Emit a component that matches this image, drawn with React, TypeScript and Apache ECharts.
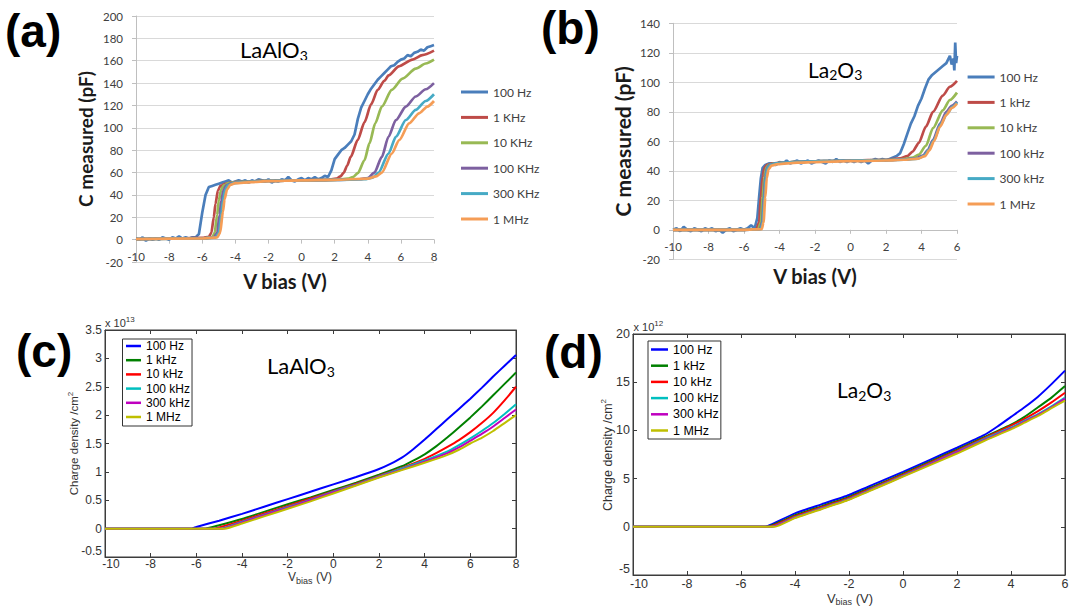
import { useEffect, useRef } from "react";
import * as echarts from "echarts";

type Pt = [number, number];

const EXCEL_FONT = "Lato, 'Liberation Sans', sans-serif";
const MATLAB_FONT = "'Liberation Sans', Arial, sans-serif";

const EXCEL_COLORS = ["#4A7EBB", "#BE4B48", "#98B954", "#7D60A0", "#46AAC5", "#F59D56"];
const MATLAB_COLORS = ["#0000FF", "#008000", "#FF0000", "#00BFBF", "#BF00BF", "#BFBF00"];

// ---------- (a) LaAlO3, C measured (pF) ----------
const A_NAMES = ["100 Hz", "1 KHz", "10 KHz", "100 KHz", "300 KHz", "1 MHz"];
const A_100HZ: Pt[] = [
  [-10, 1], [-9.8, 0], [-9.6, 2], [-9.4, -1], [-9.2, 1], [-9, 0], [-8.8, 1], [-8.6, 0], [-8.4, 2], [-8.2, 1],
  [-8, 0], [-7.8, 2], [-7.6, 1], [-7.4, 3], [-7.2, 1], [-7, 2], [-6.8, 1], [-6.6, 2], [-6.4, 2], [-6.2, 5],
  [-6, 24], [-5.8, 40], [-5.6, 47], [-5.4, 48], [-5.2, 49], [-5, 50], [-4.8, 51], [-4.6, 52], [-4.4, 53], [-4.2, 51],
  [-4, 52], [-3.8, 53], [-3.6, 52], [-3.4, 53], [-3.2, 51], [-3, 53], [-2.8, 52], [-2.6, 54], [-2.4, 53], [-2.2, 52],
  [-2, 54], [-1.8, 51], [-1.6, 53], [-1.4, 52], [-1.2, 54], [-1, 53], [-0.8, 56], [-0.6, 53], [-0.4, 52], [-0.2, 54],
  [0, 55], [0.2, 53], [0.4, 55], [0.6, 54], [0.8, 56], [1, 54], [1.2, 55], [1.4, 57], [1.6, 56], [1.8, 62],
  [2, 72], [2.2, 76], [2.4, 80], [2.6, 82], [2.8, 85], [3, 88], [3.2, 94], [3.4, 108], [3.6, 118], [3.8, 124],
  [4, 130], [4.2, 135], [4.4, 139], [4.6, 143], [4.8, 146], [5, 149], [5.2, 152], [5.4, 155], [5.6, 156], [5.8, 159],
  [6, 161], [6.2, 162], [6.4, 165], [6.6, 164], [6.8, 167], [7, 168], [7.2, 170], [7.4, 169], [7.6, 172], [7.8, 173],
  [8, 174],
];
const A_1KHZ: Pt[] = [
  [-10, 0.5], [-8, 1], [-6, 1.5], [-5.6, 2.5], [-5.45, 6], [-5.3, 20], [-5.2, 32], [-5.05, 44], [-4.9, 48], [-4.6, 50],
  [-4, 51.5], [-2, 52.5], [0, 53], [1.5, 53.5], [2.1, 54.5], [2.35, 56.5], [2.55, 60], [2.75, 66], [2.97, 74], [3.39, 89],
  [3.8, 105], [4.2, 121], [4.6, 134], [5, 142], [5.26, 147], [5.88, 155], [6.7, 161], [7.3, 165], [8, 169],
];
const A_10KHZ: Pt[] = [
  [-10, 0.5], [-6, 1], [-5.4, 2], [-5.25, 6], [-5.1, 22], [-5, 35], [-4.85, 45], [-4.7, 48.5], [-4.4, 50.5], [-4, 51.5],
  [-2, 52.5], [0, 53], [2, 53.5], [2.8, 54.5], [3.1, 56], [3.4, 59.5], [3.8, 71], [4.1, 86], [4.45, 104], [4.85, 119],
  [5.45, 134], [6.1, 144], [6.9, 153], [7.5, 157.5], [8, 161],
];
const A_100KHZ: Pt[] = [
  [-10, 0.5], [-6, 1], [-5.3, 2], [-5.1, 6], [-4.95, 22], [-4.85, 35], [-4.7, 45], [-4.55, 48.5], [-4.2, 50.5], [-4, 51],
  [-2, 52.5], [0, 53], [2, 53.5], [3.5, 54], [4, 55], [4.4, 60], [4.85, 74], [5.25, 92], [5.7, 107], [6.3, 119],
  [6.9, 128], [7.5, 134.5], [8, 140],
];
const A_300KHZ: Pt[] = [
  [-10, 0.5], [-6, 1], [-5.2, 2], [-5, 6], [-4.85, 22], [-4.75, 35], [-4.6, 45], [-4.45, 48.5], [-4.1, 50.5], [-3.5, 51.5],
  [-2, 52.5], [0, 53], [2, 53.5], [3.8, 54], [4.3, 55.5], [4.65, 60], [5.25, 77], [5.7, 92], [6.3, 107], [6.9, 116],
  [7.5, 124], [8, 130],
];
const A_1MHZ: Pt[] = [
  [-10, 0.5], [-6, 1], [-5.1, 2], [-4.92, 6], [-4.75, 25], [-4.65, 36], [-4.5, 45], [-4.3, 49], [-4, 50.5], [-3, 51.5],
  [-2, 52.3], [0, 53], [2, 53.5], [4, 54.5], [4.5, 56.5], [4.85, 60], [5.45, 77], [5.9, 89], [6.5, 104], [7.1, 113],
  [7.6, 119], [8, 124],
];

// ---------- (b) La2O3, C measured (pF) ----------
const B_NAMES = ["100 Hz", "1 kHz", "10 kHz", "100 kHz", "300 kHz", "1 MHz"];
const B_100HZ: Pt[] = [
  [-10, 0], [-9.8, 1], [-9.6, -1], [-9.4, 2], [-9.2, 0], [-9, -1], [-8.8, 1], [-8.6, 0], [-8.4, -1], [-8.2, 1],
  [-8, 0], [-7.8, 1], [-7.6, -1], [-7.4, 0], [-7.2, -2], [-7, 0], [-6.8, 1], [-6.6, -1], [-6.4, 0], [-6.2, 1],
  [-6, 0], [-5.8, 1], [-5.6, 3], [-5.4, 1], [-5.25, 8], [-5.15, 22], [-5.05, 35], [-4.95, 42], [-4.8, 44], [-4.6, 45],
  [-4.4, 45], [-4.2, 44], [-4, 46], [-3.8, 45], [-3.6, 47], [-3.4, 45], [-3.2, 46], [-3, 47], [-2.8, 45], [-2.6, 46],
  [-2.4, 47], [-2.2, 45], [-2, 46], [-1.8, 47], [-1.6, 46], [-1.4, 45], [-1.2, 47], [-1, 46], [-0.8, 48], [-0.6, 46],
  [-0.4, 47], [-0.2, 46], [0, 47], [0.2, 46], [0.4, 47], [0.6, 46], [0.8, 47], [1, 45], [1.2, 47], [1.4, 48],
  [1.6, 47], [1.8, 48], [2, 47], [2.2, 48], [2.4, 49], [2.6, 50], [2.8, 52], [3, 58], [3.2, 65], [3.4, 72],
  [3.6, 77], [3.8, 84], [4, 89], [4.2, 96], [4.4, 102], [4.6, 105], [4.8, 107], [5, 109], [5.2, 111], [5.4, 113],
  [5.6, 118], [5.7, 112], [5.8, 116], [5.85, 108], [5.9, 127], [5.95, 113], [6, 118],
];
const B_1KHZ: Pt[] = [
  [-10, 0], [-6, 0], [-5.3, 0.5], [-5.15, 5], [-5.05, 22], [-4.95, 36], [-4.85, 42], [-4.7, 44], [-4.4, 45], [-3, 46],
  [0, 47], [2, 47.5], [2.8, 48.5], [3.2, 50], [3.5, 53], [3.85, 59], [4.25, 70], [4.65, 80], [5.2, 91], [5.6, 97], [6, 101],
];
const B_10KHZ: Pt[] = [
  [-10, 0], [-6, 0], [-5.2, 0.5], [-5.05, 5], [-4.95, 22], [-4.85, 36], [-4.75, 42], [-4.6, 44], [-4.3, 45], [-3, 46],
  [0, 47], [2, 47.3], [3, 48], [3.5, 49], [3.85, 51], [4.25, 57], [4.65, 69], [5.2, 81], [5.6, 88], [6, 93],
];
const B_100KHZ: Pt[] = [
  [-10, 0], [-6, 0], [-5.1, 0.5], [-4.98, 5], [-4.88, 22], [-4.8, 36], [-4.7, 42], [-4.55, 44], [-4.25, 45], [-3, 46],
  [0, 47], [2, 47.2], [3, 47.7], [3.7, 48.5], [4.1, 50.5], [4.35, 54], [4.65, 61], [5.05, 72], [5.4, 80], [5.7, 84], [6, 87],
];
const B_300KHZ: Pt[] = [
  [-10, 0], [-6, 0], [-5.05, 0.5], [-4.95, 5], [-4.85, 22], [-4.77, 36], [-4.67, 42], [-4.5, 44], [-4.2, 45], [-3, 46],
  [0, 47], [2, 47.2], [3, 47.6], [3.8, 48.3], [4.15, 50.3], [4.4, 54], [4.7, 61], [5.1, 72], [5.45, 79], [5.75, 83.5], [6, 86.5],
];
const B_1MHZ: Pt[] = [
  [-10, 0], [-6, 0], [-5, 0.5], [-4.9, 5], [-4.8, 22], [-4.72, 35], [-4.62, 41], [-4.45, 43.5], [-4.1, 44.5], [-3, 45.5],
  [0, 46.5], [2, 47], [3, 47.5], [3.8, 48.2], [4.2, 50], [4.45, 54], [4.7, 60], [5.05, 70], [5.4, 78], [5.7, 82.5], [6, 85.5],
];

// ---------- (c) LaAlO3, charge density (x 10^13 /cm^2) ----------
const CD_NAMES = ["100 Hz", "1 kHz", "10 kHz", "100 kHz", "300 kHz", "1 MHz"];
const C_100HZ: Pt[] = [
  [-10, 0], [-6.2, 0], [-6, 0.03], [-5, 0.14], [-4, 0.26], [-3, 0.39], [-2, 0.52], [-1, 0.65], [0, 0.78], [1, 0.91],
  [2, 1.05], [2.5, 1.14], [3, 1.25], [3.5, 1.4], [4, 1.57], [4.5, 1.75], [5, 1.93], [5.5, 2.11], [6, 2.29], [6.5, 2.48],
  [7, 2.68], [7.5, 2.87], [8, 3.06],
];
const C_1KHZ: Pt[] = [
  [-10, 0], [-5.6, 0], [-5, 0.06], [-4, 0.17], [-3, 0.3], [-2, 0.43], [-1, 0.55], [0, 0.68], [1, 0.81], [2, 0.95],
  [3, 1.1], [3.5, 1.2], [4, 1.31], [4.5, 1.45], [5, 1.61], [5.5, 1.78], [6, 1.96], [6.5, 2.15], [7, 2.35], [7.5, 2.55], [8, 2.75],
];
const C_10KHZ: Pt[] = [
  [-10, 0], [-5.2, 0], [-5, 0.02], [-4, 0.14], [-3, 0.27], [-2, 0.4], [-1, 0.53], [0, 0.66], [1, 0.79], [2, 0.93],
  [3, 1.07], [4, 1.23], [4.5, 1.33], [5, 1.44], [5.5, 1.56], [6, 1.7], [6.5, 1.86], [7, 2.04], [7.5, 2.26], [8, 2.5],
];
const C_100KHZ: Pt[] = [
  [-10, 0], [-4.95, 0], [-4, 0.12], [-3, 0.25], [-2, 0.38], [-1, 0.51], [0, 0.65], [1, 0.78], [2, 0.92], [3, 1.06],
  [4, 1.2], [5, 1.36], [5.5, 1.47], [6, 1.59], [6.5, 1.72], [7, 1.86], [7.5, 2.02], [8, 2.19],
];
const C_300KHZ: Pt[] = [
  [-10, 0], [-4.85, 0], [-4, 0.11], [-3, 0.24], [-2, 0.37], [-1, 0.5], [0, 0.64], [1, 0.77], [2, 0.91], [3, 1.04],
  [4, 1.18], [5, 1.33], [5.5, 1.43], [6, 1.55], [6.5, 1.67], [7, 1.8], [7.5, 1.95], [8, 2.1],
];
const C_1MHZ: Pt[] = [
  [-10, 0], [-4.75, 0], [-4, 0.09], [-3, 0.22], [-2, 0.35], [-1, 0.48], [0, 0.62], [1, 0.76], [2, 0.9], [3, 1.03],
  [4, 1.16], [5, 1.3], [5.5, 1.39], [6, 1.5], [6.5, 1.6], [7, 1.72], [7.5, 1.86], [8, 2.0],
];

// ---------- (d) La2O3, charge density (x 10^12 /cm^2) ----------
const D_100HZ: Pt[] = [
  [-10, 0], [-5.2, 0], [-5, 0.1], [-4, 1.4], [-3, 2.35], [-2, 3.3], [-1, 4.5], [0, 5.7], [1, 6.95], [2, 8.2],
  [3, 9.5], [3.5, 10.4], [4, 11.4], [4.5, 12.4], [5, 13.5], [5.5, 14.8], [6, 16.2],
];
const D_1KHZ: Pt[] = [
  [-10, 0], [-5.05, 0], [-4, 1.2], [-3, 2.15], [-2, 3.1], [-1, 4.3], [0, 5.5], [1, 6.75], [2, 8.0], [3, 9.3],
  [4, 10.6], [4.5, 11.4], [5, 12.4], [5.5, 13.4], [6, 14.6],
];
const D_10KHZ: Pt[] = [
  [-10, 0], [-5, 0], [-4, 1.1], [-3, 2.05], [-2, 3.0], [-1, 4.2], [0, 5.4], [1, 6.65], [2, 7.9], [3, 9.2],
  [4, 10.5], [4.5, 11.2], [5, 12.0], [5.5, 12.9], [6, 13.9],
];
const D_100KHZ: Pt[] = [
  [-10, 0], [-4.9, 0], [-4, 1.0], [-3, 1.95], [-2, 2.9], [-1, 4.1], [0, 5.3], [1, 6.55], [2, 7.8], [3, 9.1],
  [4, 10.3], [4.5, 11.0], [5, 11.7], [5.5, 12.5], [6, 13.4],
];
const D_300KHZ: Pt[] = [
  [-10, 0], [-4.85, 0], [-4, 0.95], [-3, 1.9], [-2, 2.85], [-1, 4.05], [0, 5.25], [1, 6.5], [2, 7.75], [3, 9.0],
  [4, 10.2], [4.5, 10.9], [5, 11.6], [5.5, 12.4], [6, 13.3],
];
const D_1MHZ: Pt[] = [
  [-10, 0], [-4.75, 0], [-4, 0.9], [-3, 1.85], [-2, 2.8], [-1, 4.0], [0, 5.2], [1, 6.4], [2, 7.6], [3, 8.9],
  [4, 10.1], [4.5, 10.8], [5, 11.5], [5.5, 12.3], [6, 13.1],
];

// ---------- helpers ----------
const W = 1074;
const H = 611;

function panelLabel(text: string, x: number, y: number) {
  return {
    type: "text",
    x,
    y,
    style: {
      text,
      fontFamily: "'Liberation Sans', Arial, sans-serif",
      fontSize: 46,
      fontWeight: "bold",
      fill: "#000",
      align: "left",
      verticalAlign: "middle",
    },
  };
}

function formula(parts: string, x: number, y: number, size: number, subSize: number) {
  return {
    type: "text",
    x,
    y,
    style: {
      text: parts,
      align: "left",
      verticalAlign: "middle",
      fill: "#000",
      rich: {
        m: { fontSize: size, fontFamily: EXCEL_FONT, lineHeight: size + 4, fill: "#000" },
        s: { fontSize: subSize, fontFamily: EXCEL_FONT, lineHeight: 11, verticalAlign: "bottom", fill: "#000" },
      },
    },
  };
}

function excelOption(o: {
  left: number; top: number; rightX: number; bottomY: number;
  xMax: number; yMax: number; names: string[]; data: Pt[][];
  legLeft: number; legTop: number; yNameSize: number; yNameGap: number; xNameSize: number; xNameGap: number;
  graphic: any[];
}) {
  const grey = "#BFBFBF";
  const yMin = -20;
  // horizontal axis crosses the vertical one at C = 0, as in the spreadsheet chart
  const zeroLift = ((o.bottomY - o.top) * (0 - yMin)) / (o.yMax - yMin);
  return {
    animation: false,
    grid: { left: o.left, top: o.top, right: W - o.rightX, bottom: H - o.bottomY },
    legend: {
      orient: "vertical",
      left: o.legLeft,
      top: o.legTop,
      icon: "rect",
      itemWidth: 27,
      itemHeight: 3,
      itemGap: 11.4,
      itemTextGap: 2,
      padding: 0,
      selectedMode: false,
      textStyle: { fontFamily: EXCEL_FONT, fontSize: 12, lineHeight: 14, color: "#404040" },
      data: o.names,
    },
    xAxis: {
      type: "value",
      min: -10,
      max: o.xMax,
      interval: 2,
      offset: -zeroLift,
      axisLine: { show: true, onZero: false, lineStyle: { color: grey, width: 1 } },
      axisTick: { show: true, length: 4, lineStyle: { color: grey } },
      axisLabel: { margin: 11, fontSize: 11.5, color: "#404040", fontFamily: EXCEL_FONT },
      splitLine: { show: false },
      name: "V bias (V)",
      nameLocation: "middle",
      nameGap: o.xNameGap,
      nameTextStyle: { fontFamily: EXCEL_FONT, fontSize: o.xNameSize, fontWeight: "bold", color: "#1a1a1a" },
    },
    yAxis: {
      type: "value",
      min: yMin,
      max: o.yMax,
      interval: 20,
      axisLine: { show: true, onZero: false, lineStyle: { color: grey, width: 1 } },
      axisTick: { show: true, length: 4, lineStyle: { color: grey } },
      axisLabel: { margin: 13, fontSize: 11.5, color: "#404040", fontFamily: EXCEL_FONT },
      splitLine: { show: true, lineStyle: { color: "#D9D9D9", width: 1 } },
      name: "C measured (pF)",
      nameLocation: "middle",
      nameGap: o.yNameGap,
      nameTextStyle: { fontFamily: EXCEL_FONT, fontSize: o.yNameSize, fontWeight: "bold", color: "#1a1a1a" },
    },
    series: o.data.map((d, i) => ({
      type: "line",
      name: o.names[i],
      data: d,
      symbol: "none",
      smooth: i === 0 ? false : 0.25,
      smoothMonotone: "x",
      lineStyle: { width: 2.7, color: EXCEL_COLORS[i] },
      itemStyle: { color: EXCEL_COLORS[i] },
    })),
    graphic: o.graphic,
  };
}

function matlabOption(o: {
  left: number; top: number; rightX: number; bottomY: number;
  xMax: number; yMin: number; yMax: number; yInterval: number; data: Pt[][];
  legLeft: number; legTop: number; legGap: number; legPad: number[]; legItemW: number; legFont: number;
  tickFont: number; xLabelMargin: number;
  graphic: any[];
}) {
  const axisColor = "#3c3c3c";
  const line = { show: true, onZero: false, lineStyle: { color: axisColor, width: 1 } };
  const tick = { show: true, inside: true, length: 4, lineStyle: { color: axisColor } };
  const lab = { fontSize: o.tickFont, color: "#333", fontFamily: MATLAB_FONT };
  return {
    animation: false,
    grid: {
      left: o.left, top: o.top, right: W - o.rightX, bottom: H - o.bottomY,
      show: true, borderColor: axisColor, borderWidth: 1, backgroundColor: "transparent",
    },
    legend: {
      orient: "vertical",
      left: o.legLeft,
      top: o.legTop,
      icon: "rect",
      itemWidth: o.legItemW,
      itemHeight: 2.5,
      itemGap: o.legGap,
      itemTextGap: 1,
      padding: o.legPad,
      backgroundColor: "#fff",
      borderColor: "#333",
      borderWidth: 1,
      selectedMode: false,
      textStyle: { fontFamily: MATLAB_FONT, fontSize: o.legFont, lineHeight: 12, color: "#000" },
      data: CD_NAMES,
    },
    xAxis: [
      {
        type: "value", min: -10, max: o.xMax, interval: 2, position: "bottom",
        axisLine: line, axisTick: tick, splitLine: { show: false },
        axisLabel: {
          ...lab,
          margin: o.xLabelMargin,
          formatter: (v: number) => (v === -10 ? "{f|-10}" : String(v)),
          rich: { f: { ...lab, padding: [0, 0, 0, 12] } },
        },
      },
      {
        type: "value", min: -10, max: o.xMax, interval: 2, position: "top",
        axisLine: line, axisTick: tick, splitLine: { show: false }, axisLabel: { show: false },
      },
    ],
    yAxis: [
      {
        type: "value", min: o.yMin, max: o.yMax, interval: o.yInterval, position: "left",
        axisLine: line, axisTick: tick, splitLine: { show: false },
        axisLabel: {
          ...lab,
          margin: 3,
          formatter: (v: number) => (v === o.yMin ? `{f|${v}}` : String(v)),
          rich: { f: { ...lab, padding: [0, 0, 12, 0] } },
        },
      },
      {
        type: "value", min: o.yMin, max: o.yMax, interval: o.yInterval, position: "right",
        axisLine: line, axisTick: tick, splitLine: { show: false }, axisLabel: { show: false },
      },
    ],
    series: o.data.map((d, i) => ({
      type: "line",
      name: CD_NAMES[i],
      data: d,
      xAxisIndex: 0,
      yAxisIndex: 0,
      symbol: "none",
      smooth: 0.15,
      lineStyle: { width: 2, color: MATLAB_COLORS[i] },
      itemStyle: { color: MATLAB_COLORS[i] },
    })),
    graphic: o.graphic,
  };
}

function matlabTexts(o: {
  expo: string; ex: number; ey: number;
  yx: number; yy: number; ySize: number;
  vx: number; vy: number; vSize: number;
}) {
  return [
    {
      type: "text", x: o.ex, y: o.ey,
      style: {
        text: `{t|x 10}{p|${o.expo}}`, align: "left", verticalAlign: "middle",
        rich: {
          t: { fontSize: 11, fontFamily: MATLAB_FONT, lineHeight: 16, fill: "#333" },
          p: { fontSize: 8, fontFamily: MATLAB_FONT, lineHeight: 8, verticalAlign: "top", fill: "#333" },
        },
      },
    },
    {
      type: "text", x: o.yx, y: o.yy, rotation: Math.PI / 2,
      style: {
        text: "{t|Charge density /cm}{p|2}", align: "center", verticalAlign: "middle",
        rich: {
          t: { fontSize: o.ySize, fontFamily: MATLAB_FONT, lineHeight: 16, fill: "#333" },
          p: { fontSize: 8, fontFamily: MATLAB_FONT, lineHeight: 8, verticalAlign: "top", fill: "#333" },
        },
      },
    },
    {
      type: "text", x: o.vx, y: o.vy,
      style: {
        text: "{t|V}{s|bias}{t| (V)}", align: "center", verticalAlign: "middle",
        rich: {
          t: { fontSize: o.vSize, fontFamily: MATLAB_FONT, lineHeight: 16, fill: "#333" },
          s: { fontSize: 9, fontFamily: MATLAB_FONT, lineHeight: 4, verticalAlign: "bottom", fill: "#333" },
        },
      },
    },
  ];
}

// ---------- options ----------
const OPT_A = excelOption({
  left: 136, top: 16, rightX: 434, bottomY: 262,
  xMax: 8, yMax: 200, names: A_NAMES,
  data: [A_100HZ, A_1KHZ, A_10KHZ, A_100KHZ, A_300KHZ, A_1MHZ],
  legLeft: 461, legTop: 85, yNameSize: 19, yNameGap: 41, xNameSize: 20, xNameGap: 31,
  graphic: [panelLabel("(a)", 5, 30.5), formula("{m|LaAlO}{s|3}", 240, 49.5, 22, 14)],
});

const OPT_B = excelOption({
  left: 673, top: 23.3, rightX: 957, bottomY: 259.3,
  xMax: 6, yMax: 140, names: B_NAMES,
  data: [B_100HZ, B_1KHZ, B_10KHZ, B_100KHZ, B_300KHZ, B_1MHZ],
  legLeft: 967.6, legTop: 70, yNameSize: 21, yNameGap: 40, xNameSize: 20, xNameGap: 36,
  graphic: [panelLabel("(b)", 541, 27.5), formula("{m|La}{s|2}{m|O}{s|3}", 808, 69, 21, 14)],
});

const OPT_C = matlabOption({
  left: 105, top: 330, rightX: 516, bottomY: 557,
  xMax: 8, yMin: -0.5, yMax: 3.5, yInterval: 0.5,
  data: [C_100HZ, C_1KHZ, C_10KHZ, C_100KHZ, C_300KHZ, C_1MHZ],
  legLeft: 122.5, legTop: 339, legGap: 2.2, legPad: [1, 2, 3, 3.5], legItemW: 15, legFont: 12,
  tickFont: 12, xLabelMargin: 1,
  graphic: [
    panelLabel("(c)", 16, 351),
    formula("{m|LaAlO}{s|3}", 267, 365, 22, 14),
    ...matlabTexts({ expo: "13", ex: 105, ey: 323, yx: 74, yy: 443.5, ySize: 11.5, vx: 310, vy: 577, vSize: 12 }),
  ],
});

const OPT_D = matlabOption({
  left: 633, top: 334, rightX: 1065, bottomY: 575,
  xMax: 6, yMin: -5, yMax: 20, yInterval: 5,
  data: [D_100HZ, D_1KHZ, D_10KHZ, D_100KHZ, D_300KHZ, D_1MHZ],
  legLeft: 648, legTop: 341, legGap: 3.2, legPad: [2, 2, 2, 3], legItemW: 17, legFont: 12.5,
  tickFont: 12.5, xLabelMargin: 2,
  graphic: [
    panelLabel("(d)", 544, 352),
    formula("{m|La}{s|2}{m|O}{s|3}", 837, 389.5, 21, 14),
    ...matlabTexts({ expo: "12", ex: 633.5, ey: 327, yx: 607.6, yy: 455, ySize: 12.5, vx: 850, vy: 598, vSize: 13 }),
  ],
});

function Chart({ option }: { option: any }) {
  const ref = useRef<HTMLDivElement>(null);
  useEffect(() => {
    if (!ref.current) return;
    const chart = echarts.init(ref.current, null, { renderer: "svg" });
    chart.setOption(option);
    return () => chart.dispose();
  }, [option]);
  return <div ref={ref} style={{ position: "absolute", left: 0, top: 0, width: W, height: H }} />;
}

export default function App() {
  return (
    <div style={{ position: "fixed", left: 0, top: 0, width: W, height: H, background: "#fff", overflow: "hidden" }}>
      <Chart option={OPT_A} />
      <Chart option={OPT_B} />
      <Chart option={OPT_C} />
      <Chart option={OPT_D} />
    </div>
  );
}
